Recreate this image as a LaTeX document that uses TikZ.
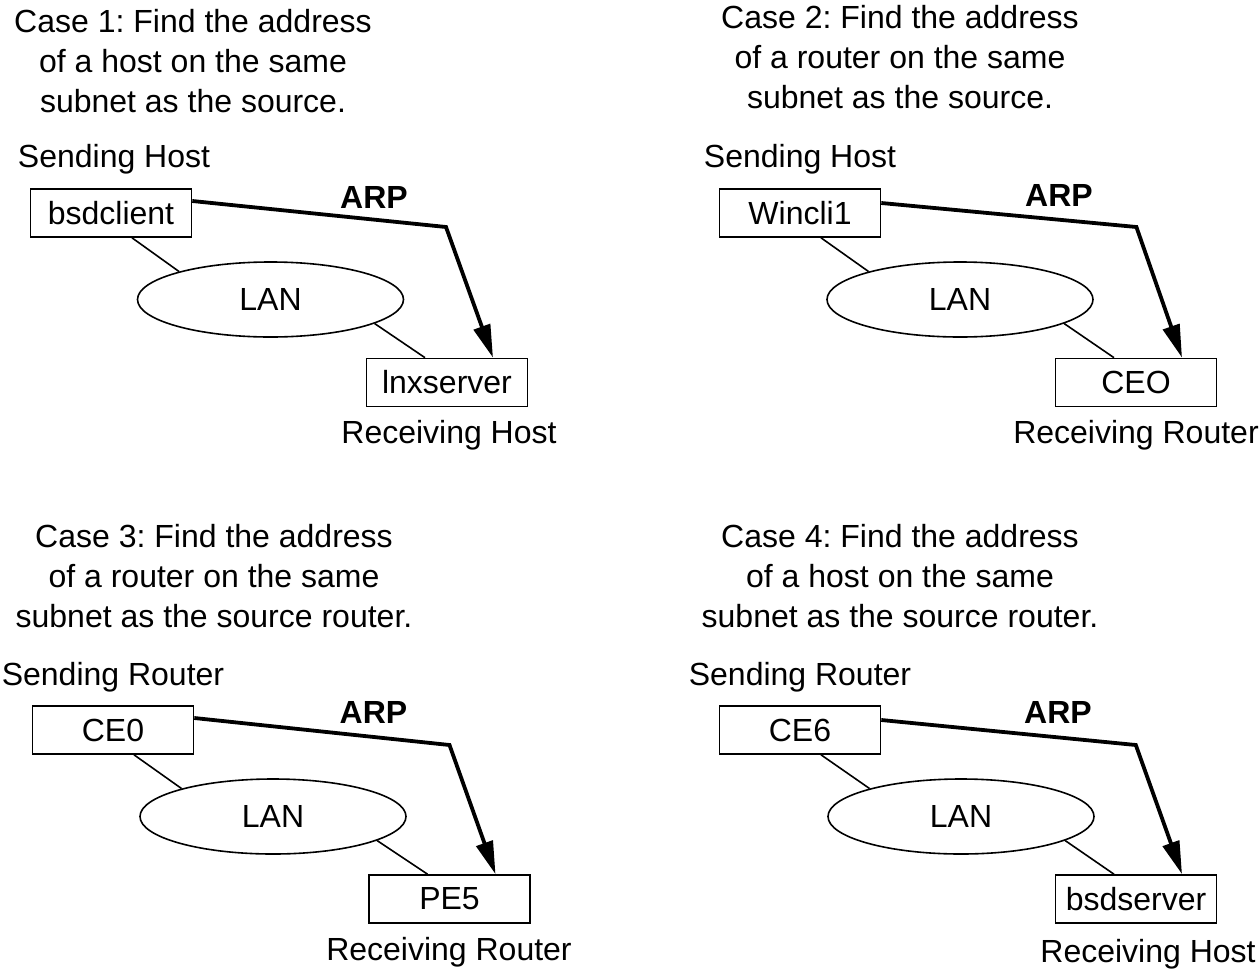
\documentclass[tikz,border=0pt]{standalone}
\usepackage{fontspec}
\setmainfont{Liberation Sans}
\usetikzlibrary{arrows.meta,calc,shapes.geometric}
\begin{document}
\frenchspacing
\begin{tikzpicture}[x=1pt,y=-1pt,
  every node/.style={font=\fontsize{32}{40}\selectfont},
  boxn/.style={draw, line width=1.6pt, minimum width=161pt, minimum height=48pt, inner sep=0pt},
  lann/.style={draw, ellipse, line width=1.6pt, minimum width=266pt, minimum height=75pt, inner sep=0pt},
  titlen/.style={align=center, inner sep=0pt},
  lbl/.style={inner sep=0pt},
  link/.style={line width=1.6pt},
  arpline/.style={line width=3.8pt, line join=miter, -{Triangle[length=33pt,width=17pt]}},
  arpl/.style={font=\fontsize{32}{40}\selectfont\bfseries, inner sep=0pt}]
\useasboundingbox (0,0) rectangle (1260,972);

% ---------- Case 1 ----------
\node[titlen] (t1) at (193,61) {Case 1: Find the address\\of a host on the same\\subnet as the source.};
\node[lbl] (s1) at (114,159) {Sending Host};
\node[boxn] (b1) at (111,213) {bsdclient};
\node[lann] (l1) at (270.5,299.5) {LAN};
\node[boxn] (r1) at (447,382.5) {lnxserver};
\node[lbl] (rl1) at (449,435) {Receiving Host};
\node[arpl] (a1) at (374,197) {ARP};
\coordinate (k1) at (446,227);
\draw[link] ([xshift=21pt]b1.south) -- (l1.163);
\draw[link] (l1.-13) -- ([xshift=-22pt]r1.north);
\draw[arpline] ([yshift=12pt]b1.east) -- (k1) -- ([xshift=46pt]r1.north);

% ---------- Case 2 ----------
\node[titlen] (t2) at (900,57) {Case 2: Find the address\\of a router on the same\\subnet as the source.};
\node[lbl] (s2) at (800,159) {Sending Host};
\node[boxn] (b2) at (800,213) {Wincli1};
\node[lann] (l2) at (960,299.5) {LAN};
\node[boxn] (r2) at (1136,382.5) {CEO};
\node[lbl] (rl2) at (1136,435) {Receiving Router};
\node[arpl] (a2) at (1059,195) {ARP};
\coordinate (k2) at (1136.4,227);
\draw[link] ([xshift=21pt]b2.south) -- (l2.163);
\draw[link] (l2.-13) -- ([xshift=-22pt]r2.north);
\draw[arpline] ([yshift=10pt]b2.east) -- (k2) -- ([xshift=46pt]r2.north);

% ---------- Case 3 ----------
\node[titlen] (t3) at (214,576) {Case 3: Find the address\\of a router on the same\\subnet as the source router.};
\node[lbl] (s3) at (113,677) {Sending Router};
\node[boxn] (b3) at (113,730) {CE0};
\node[lann] (l3) at (273,816.5) {LAN};
\node[boxn] (r3) at (449.5,899) {PE5};
\node[lbl] (rl3) at (449,952) {Receiving Router};
\node[arpl] (a3) at (373.5,712) {ARP};
\coordinate (k3) at (449.5,745);
\draw[link] ([xshift=21pt]b3.south) -- (l3.163);
\draw[link] (l3.-13) -- ([xshift=-22pt]r3.north);
\draw[arpline] ([yshift=12pt]b3.east) -- (k3) -- ([xshift=46pt]r3.north);

% ---------- Case 4 ----------
\node[titlen] (t4) at (900,576) {Case 4: Find the address\\of a host on the same\\subnet as the source router.};
\node[lbl] (s4) at (800,677) {Sending Router};
\node[boxn] (b4) at (800,730) {CE6};
\node[lann] (l4) at (961,816.5) {LAN};
\node[boxn] (r4) at (1136,899) {bsdserver};
\node[lbl] (rl4) at (1148,954) {Receiving Host};
\node[arpl] (a4) at (1058,712) {ARP};
\coordinate (k4) at (1135.8,745);
\draw[link] ([xshift=21pt]b4.south) -- (l4.163);
\draw[link] (l4.-13) -- ([xshift=-22pt]r4.north);
\draw[arpline] ([yshift=10pt]b4.east) -- (k4) -- ([xshift=46pt]r4.north);
\end{tikzpicture}
\end{document}
